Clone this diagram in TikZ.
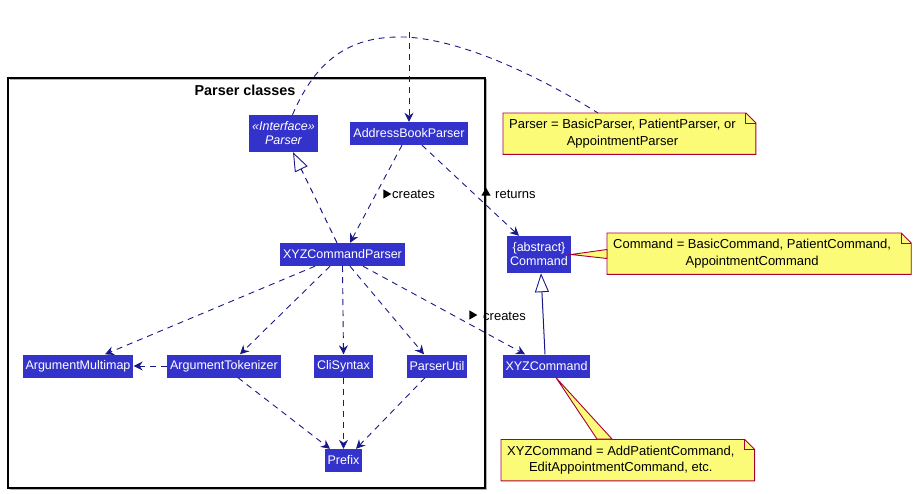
\documentclass[tikz,border=0pt]{standalone}
\usepackage{fontspec}
\setmainfont{Liberation Sans}
\usetikzlibrary{arrows.meta,shapes.geometric,backgrounds}
\definecolor{clsblue}{RGB}{51,51,204}
\definecolor{linkblue}{RGB}{24,24,136}
\definecolor{noteyellow}{RGB}{251,251,119}
\definecolor{notered}{RGB}{168,0,54}
\begin{document}
\begin{tikzpicture}[x=1pt, y=-1pt,
    cls/.style={fill=clsblue, text=white, inner xsep=3pt, inner ysep=0pt,
      minimum height=23pt, font=\fontsize{12.5}{15}\selectfont, align=center},
    note/.style={anchor=north west, inner xsep=6pt, inner ysep=2pt, minimum height=41pt,
      font=\fontsize{13}{16.5}\selectfont, align=center},
    notebd/.style={draw=notered, line width=0.9pt},
    dep/.style={draw=linkblue, line width=0.9pt, dash pattern=on 6pt off 5pt,
      -{Stealth[length=9pt,width=9pt,inset=3pt]}},
    realize/.style={draw=linkblue, line width=1pt,
      -{Triangle[open,length=19pt,width=14pt,line width=0.9pt]}},
    lbl/.style={font=\fontsize{13}{15}\selectfont, inner sep=1pt},
    dirmark/.style={isosceles triangle, fill=black, inner sep=0pt,
      minimum height=8pt, minimum width=8pt, isosceles triangle apex angle=60}]
  \useasboundingbox (0,0) rectangle (917,493);

  % package frame
  \draw[gray!60, line width=1.2pt] (9.5,79.5) -- (486.5,79.5) -- (486.5,489.5) -- (9.5,489.5);
  \draw[black, line width=1.1pt] (8,78) rectangle (485,488);
  \node[font=\bfseries\fontsize{14.4}{16}\selectfont] (pkg) at (245,90) {Parser classes};

  % classes
  \node[cls, minimum height=37pt, font=\itshape\fontsize{12.5}{14}\selectfont] (iparser) at (283.5,133.5) {«Interface»\\Parser};
  \node[cls] (abp) at (409,133.5) {AddressBookParser};
  \node[cls] (xcp) at (342.5,254.5) {XYZCommandParser};
  \node[cls, minimum height=37pt, font=\fontsize{12.5}{14}\selectfont] (cmd) at (539,254.5) {\{abstract\}\\Command};
  \node[cls] (amap) at (78,366) {ArgumentMultimap};
  \node[cls] (atok) at (224,366) {ArgumentTokenizer};
  \node[cls] (cli) at (343.5,366) {CliSyntax};
  \node[cls] (putil) at (437,366) {ParserUtil};
  \node[cls] (prefix) at (343.5,460.5) {Prefix};
  \node[cls] (xcmd) at (546.5,366) {XYZCommand};
  \coordinate (entry) at (409,32);

  % note wedges
  \draw[notebd, fill=noteyellow] (cmd.east) -- (607,249.5) -- (607,258.5) -- cycle;
  \draw[notebd, fill=noteyellow] ([xshift=9.5pt]xcmd.south) -- (597,439) -- (612,439) -- cycle;

  % notes
  \node[note] (pnote) at (503,113) {Parser = BasicParser, PatientParser, or\\AppointmentParser};
  \node[note] (cnote) at (607,233) {Command = BasicCommand, PatientCommand,\\AppointmentCommand};
  \node[note] (xnote) at (501,439.5) {XYZCommand = AddPatientCommand,\\EditAppointmentCommand, etc.};
  \foreach \n in {pnote, cnote, xnote} {
    \begin{scope}[on background layer]
      \path[notebd, fill=noteyellow] (\n.north west) -- ([xshift=4pt]\n.north east)
        -- ([xshift=14pt,yshift=-10pt]\n.north east) -- ([xshift=14pt]\n.south east)
        -- (\n.south west) -- cycle;
    \end{scope}
    \draw[notebd] ([xshift=4pt]\n.north east) -- ([xshift=4pt,yshift=-10pt]\n.north east)
      -- ([xshift=14pt,yshift=-10pt]\n.north east);
  }

  % note link for Parser
  \draw[draw=linkblue, line width=0.9pt, dash pattern=on 6pt off 5pt]
    ([xshift=9pt]iparser.north) .. controls (320,50) and (360,36) .. (405,37)
    .. controls (470,40) and (555,86) .. ([xshift=95pt]pnote.north west);

  % dependencies
  \draw[dep] (entry) -- (abp.north);
  \draw[dep] ([xshift=-7pt]abp.south) -- ([xshift=7.5pt]xcp.north);
  \draw[dep] ([xshift=13pt]abp.south) -- ([xshift=-20pt]cmd.north);
  \draw[dep] ([xshift=-27.5pt]xcp.south) -- ([xshift=27pt]amap.north);
  \draw[dep] ([xshift=-12.5pt]xcp.south) -- ([xshift=16pt]atok.north);
  \draw[dep] (xcp.south) -- (cli.north);
  \draw[dep] ([xshift=7.5pt]xcp.south) -- ([xshift=-13pt]putil.north);
  \draw[dep] ([xshift=20.5pt]xcp.south) -- ([xshift=-21.5pt]xcmd.north);
  \draw[dep] (atok.west) -- (amap.east);
  \draw[dep] ([xshift=14pt]atok.south) -- ([xshift=-13.5pt]prefix.north);
  \draw[dep] (cli.south) -- (prefix.north);
  \draw[dep] ([xshift=-12pt]putil.south) -- ([xshift=12.5pt]prefix.north);

  % realizations
  \draw[realize, dash pattern=on 6pt off 5pt] ([xshift=-5.5pt]xcp.north) -- ([xshift=9.5pt]iparser.south);
  \draw[realize, solid] ([xshift=-1.5pt]xcmd.north) -- ([xshift=2pt]cmd.south);

  % labels
  \node[dirmark, shape border rotate=-20] (m1) at (386,194) {};
  \node[lbl, anchor=west] (l1) at (391,194) {creates};
  \node[dirmark, shape border rotate=100] (m2) at (486,193) {};
  \node[lbl, anchor=west] (l2) at (494,194) {returns};
  \node[dirmark, shape border rotate=-25] (m3) at (472,315) {};
  \node[lbl, anchor=west] (l3) at (482,316) {creates};
\end{tikzpicture}
\end{document}
